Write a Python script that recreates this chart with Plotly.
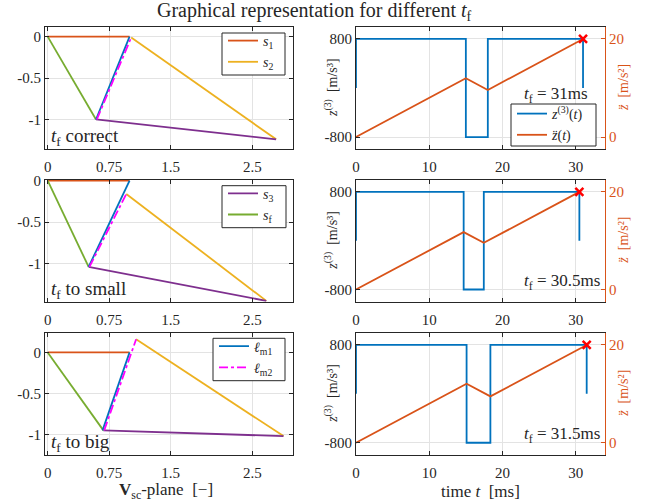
import plotly.graph_objects as go

W, H = 657, 501

# ---------------- V_sc-plane data (left column) ----------------
# scenario: t_f correct
cor_s1_x = [0.00, 1.00];  cor_s1_y = [0.00, 0.00]
cor_s2_x = [1.02, 2.79];  cor_s2_y = [-0.01, -1.24]
cor_s3_x = [0.59, 2.79];  cor_s3_y = [-1.00, -1.24]
cor_sf_x = [0.00, 0.59];  cor_sf_y = [0.00, -1.00]
cor_l1_x = [0.59, 1.00];  cor_l1_y = [-1.00, 0.00]
cor_l2_x = [0.60, 1.02];  cor_l2_y = [-1.00, -0.01]
# scenario: t_f to small
sma_s1_x = [0.00, 1.00];  sma_s1_y = [0.00, 0.00]
sma_s2_x = [0.96, 2.67];  sma_s2_y = [-0.16, -1.45]
sma_s3_x = [0.50, 2.67];  sma_s3_y = [-1.04, -1.45]
sma_sf_x = [0.00, 0.50];  sma_sf_y = [0.00, -1.04]
sma_l1_x = [0.50, 1.00];  sma_l1_y = [-1.04, 0.00]
sma_l2_x = [0.51, 0.96];  sma_l2_y = [-1.04, -0.16]
# scenario: t_f to big
big_s1_x = [0.00, 1.00];  big_s1_y = [0.00, 0.00]
big_s2_x = [1.08, 2.88];  big_s2_y = [0.16, -1.02]
big_s3_x = [0.68, 2.88];  big_s3_y = [-0.95, -1.02]
big_sf_x = [0.00, 0.68];  big_sf_y = [0.00, -0.95]
big_l1_x = [0.67, 1.00];  big_l1_y = [-0.95, 0.00]
big_l2_x = [0.69, 1.08];  big_l2_y = [-0.95, 0.16]

vsc_ticks = [0, 0.75, 1.5, 2.5]
vsc_ticktext = ["0", "0.75", "1.5", "2.5"]
vsc_yticks = [0, -0.5, -1]
vsc_yticktext = ["0", "-0.5", "-1"]

# ---------------- time data (right column) ----------------
jerk_t_31 = [0, 0, 15, 15, 18, 18, 31, 31]
jerk_v_31 = [0, 800, 800, -800, -800, 800, 800, 0]
acc_t_31 = [0, 15, 18, 31]
acc_v_31 = [0, 12.0, 9.6, 20]

jerk_t_305 = [0, 0, 14.7, 14.7, 17.45, 17.45, 30.5, 30.5]
jerk_v_305 = [0, 800, 800, -800, -800, 800, 800, 0]
acc_t_305 = [0, 14.7, 17.45, 30.5]
acc_v_305 = [0, 11.76, 9.56, 20]

jerk_t_315 = [0, 0, 15.1, 15.1, 18.35, 18.35, 31.5, 31.5]
jerk_v_315 = [0, 800, 800, -800, -800, 800, 800, 0]
acc_t_315 = [0, 15.1, 18.35, 31.5]
acc_v_315 = [0, 12.08, 9.48, 20]

final_t = [31, 30.5, 31.5]
final_acc = [20, 20, 20]

time_ticks = [0, 10, 20, 30]
jerk_ticks = [-800, 800]
jerk_ticktext = ["-800", "800"]
acc_ticks = [0, 20]

# ---------------- styling ----------------
BLUE = "#0072BD"; ORANGE = "#D95319"; YELLOW = "#EDB120"
PURPLE = "#7E2F8E"; GREEN = "#77AC30"; MAGENTA = "#FF00FF"
DARK = "#262626"; GRID = "#e3e3e3"
FONT = "Liberation Serif"
LW = 1.8

def px_x(p):
    return p / W

def px_y(p):
    return 1 - p / H

left_dom = [px_x(45), px_x(293.3)]
right_dom = [px_x(356), px_x(605)]
rows = [(26.7, 149.3), (179.7, 301.7), (332.7, 455)]

fig = go.Figure()

scen = [
    (cor_s1_x, cor_s1_y, cor_s2_x, cor_s2_y, cor_s3_x, cor_s3_y, cor_sf_x, cor_sf_y, cor_l1_x, cor_l1_y, cor_l2_x, cor_l2_y),
    (sma_s1_x, sma_s1_y, sma_s2_x, sma_s2_y, sma_s3_x, sma_s3_y, sma_sf_x, sma_sf_y, sma_l1_x, sma_l1_y, sma_l2_x, sma_l2_y),
    (big_s1_x, big_s1_y, big_s2_x, big_s2_y, big_s3_x, big_s3_y, big_sf_x, big_sf_y, big_l1_x, big_l1_y, big_l2_x, big_l2_y),
]
names = ["<i>s</i><sub>1</sub>", "<i>s</i><sub>2</sub>", "<i>s</i><sub>3</sub>",
         "<i>s</i><sub>f</sub>", "<i>ℓ</i><sub>m1</sub>", "<i>ℓ</i><sub>m2</sub>"]
colors = [ORANGE, YELLOW, PURPLE, GREEN, BLUE, MAGENTA]
dashes = ["solid", "solid", "solid", "solid", "solid", "dashdot"]
legend_of = {0: (0, "legend"), 1: (0, "legend"), 2: (1, "legend2"), 3: (1, "legend2"),
             4: (2, "legend3"), 5: (2, "legend3")}

for r, sc in enumerate(scen):
    ax = "" if r == 0 else str(r + 1)
    for k in range(6):
        xs, ys = sc[2 * k], sc[2 * k + 1]
        show_row, leg = legend_of[k]
        fig.add_trace(go.Scatter(
            x=xs, y=ys, mode="lines", name=names[k],
            line=dict(color=colors[k], width=LW, dash=dashes[k]),
            xaxis="x" + ax, yaxis="y" + ax,
            showlegend=(show_row == r), legend=leg,
        ))

time_sets = [
    (jerk_t_31, jerk_v_31, acc_t_31, acc_v_31),
    (jerk_t_305, jerk_v_305, acc_t_305, acc_v_305),
    (jerk_t_315, jerk_v_315, acc_t_315, acc_v_315),
]
for r, (jt, jv, at, av) in enumerate(time_sets):
    xa = "x" + str(r + 4)
    ya = "y" + str(r + 4)
    ya2 = "y" + str(r + 7)
    fig.add_trace(go.Scatter(x=jt, y=jv, mode="lines", name="<i>z</i><sup>(3)</sup>(<i>t</i>)",
                             line=dict(color=BLUE, width=LW), xaxis=xa, yaxis=ya,
                             showlegend=(r == 0), legend="legend4"))
    fig.add_trace(go.Scatter(x=at, y=av, mode="lines", name="<i>z̈</i>(<i>t</i>)",
                             line=dict(color=ORANGE, width=LW), xaxis=xa, yaxis=ya2,
                             showlegend=(r == 0), legend="legend4"))
    fig.add_trace(go.Scatter(x=[final_t[r]], y=[final_acc[r]], mode="markers",
                             marker=dict(symbol="x-thin", size=8, color="red",
                                         line=dict(color="red", width=2.5)),
                             xaxis=xa, yaxis=ya2, showlegend=False))

tickfont = dict(family=FONT, size=15, color=DARK)
layout = dict(
    width=W, height=H, margin=dict(l=0, r=0, t=0, b=0),
    paper_bgcolor="white", plot_bgcolor="white",
    font=dict(family=FONT, size=15, color=DARK),
)

left_yr = [[-1.36, 0.12], [-1.46, 0.012], [-1.25, 0.24]]
for r in range(3):
    top, bot = rows[r]
    ax = "" if r == 0 else str(r + 1)
    layout["xaxis" + ax] = dict(
        domain=left_dom, anchor="y" + ax, range=[-0.033, 3.0], automargin=False,
        tickvals=vsc_ticks, ticktext=vsc_ticktext, ticks="inside", ticklen=4,
        tickcolor=DARK, showline=True, linecolor=DARK, linewidth=1, mirror="ticks",
        showgrid=True, gridcolor=GRID, zeroline=False, tickfont=tickfont,
        ticklabelstandoff=4,
    )
    layout["yaxis" + ax] = dict(
        domain=[px_y(bot), px_y(top)], anchor="x" + ax, range=left_yr[r], automargin=False,
        tickvals=vsc_yticks, ticktext=vsc_yticktext, ticks="inside", ticklen=4,
        tickcolor=DARK, showline=True, linecolor=DARK, linewidth=1, mirror="ticks",
        showgrid=True, gridcolor=GRID, zeroline=False, tickfont=tickfont,
    )
    # right column
    n = str(r + 4)
    n2 = str(r + 7)
    layout["xaxis" + n] = dict(
        domain=right_dom, anchor="y" + n, range=[0, 34], automargin=False,
        tickvals=time_ticks, ticks="inside", ticklen=4,
        tickcolor=DARK, showline=True, linecolor=DARK, linewidth=1, mirror="ticks",
        showgrid=True, gridcolor=GRID, zeroline=False, tickfont=tickfont,
        ticklabelstandoff=4,
    )
    layout["yaxis" + n] = dict(
        domain=[px_y(bot), px_y(top)], anchor="x" + n, range=[-1000, 1000], automargin=False,
        tickvals=jerk_ticks, ticktext=jerk_ticktext, ticks="inside", ticklen=4,
        tickcolor=DARK, showline=True, linecolor=DARK, linewidth=1, mirror=False,
        showgrid=True, gridcolor=GRID, zeroline=False, tickfont=tickfont,
    )
    layout["yaxis" + n2] = dict(
        overlaying="y" + n, anchor="x" + n, side="right", range=[-2.5, 22.5], automargin=False,
        tickvals=acc_ticks, ticks="inside", ticklen=4, tickcolor=ORANGE,
        showline=True, linecolor=ORANGE, linewidth=1, showgrid=False, zeroline=False,
        tickfont=dict(family=FONT, size=15, color=ORANGE),
    )

# legend boxes (drawn as shapes), legends themselves transparent
leg_boxes = [(222, 33, 285, 75), (222, 185.7, 286, 227.7), (213, 338.3, 285, 380.7),
             (511, 104, 596, 146)]
leg_shift = [0, 0, 0, 2]
leg_keys = ["legend", "legend2", "legend3", "legend4"]
shapes = []
for (x0, y0, x1, y1), key, sh in zip(leg_boxes, leg_keys, leg_shift):
    shapes.append(dict(type="rect", xref="paper", yref="paper",
                       x0=px_x(x0), x1=px_x(x1), y0=px_y(y1), y1=px_y(y0),
                       fillcolor="white", line=dict(color=DARK, width=1), layer="above"))
    cy = (y0 + y1) / 2
    layout[key] = dict(x=px_x(x0 + 1), y=px_y(cy - 29 + sh), xanchor="left", yanchor="top",
                       bgcolor="rgba(0,0,0,0)", borderwidth=0, tracegroupgap=0,
                       font=dict(family=FONT, size=14, color=DARK))
layout["shapes"] = shapes

fig.update_layout(**layout)

ann = []
def add_text(text, x, y, xanchor="center", size=15, angle=0, color=DARK):
    ann.append(dict(text=text, x=px_x(x), y=px_y(y), xref="paper", yref="paper",
                    xanchor=xanchor, yanchor="middle", showarrow=False, textangle=angle,
                    font=dict(family=FONT, size=size, color=color)))

add_text("Graphical representation for different <i>t</i><sub>f</sub>", 314, 12, size=20)
add_text("<i>t</i><sub>f</sub> correct", 49, 137, xanchor="left", size=19)
add_text("<i>t</i><sub>f</sub> to small", 49, 290, xanchor="left", size=19)
add_text("<i>t</i><sub>f</sub> to big", 49, 443, xanchor="left", size=19)
add_text("<i>t</i><sub>f</sub> = 31ms", 590, 95, xanchor="right", size=17)
add_text("<i>t</i><sub>f</sub> = 30.5ms", 602, 282, xanchor="right", size=17)
add_text("<i>t</i><sub>f</sub> = 31.5ms", 602, 435, xanchor="right", size=17)
add_text("<b>V</b><sub>sc</sub>-plane  [−]", 166, 491, size=17)
add_text("time <i>t</i>  [ms]", 480, 491, size=17)
for r in range(3):
    top, bot = rows[r]
    yc = (top + bot) / 2
    add_text("<i>z</i><sup>(3)</sup>  [m/s³]", 331, yc, size=14, angle=-90)
    add_text("<i>z̈</i>  [m/s²]", 624, yc, size=14, angle=-90, color=ORANGE)

fig.update_layout(annotations=ann)
fig.write_html("out.html", config={"displayModeBar": False},
               post_script="document.body.style.margin='0';")
